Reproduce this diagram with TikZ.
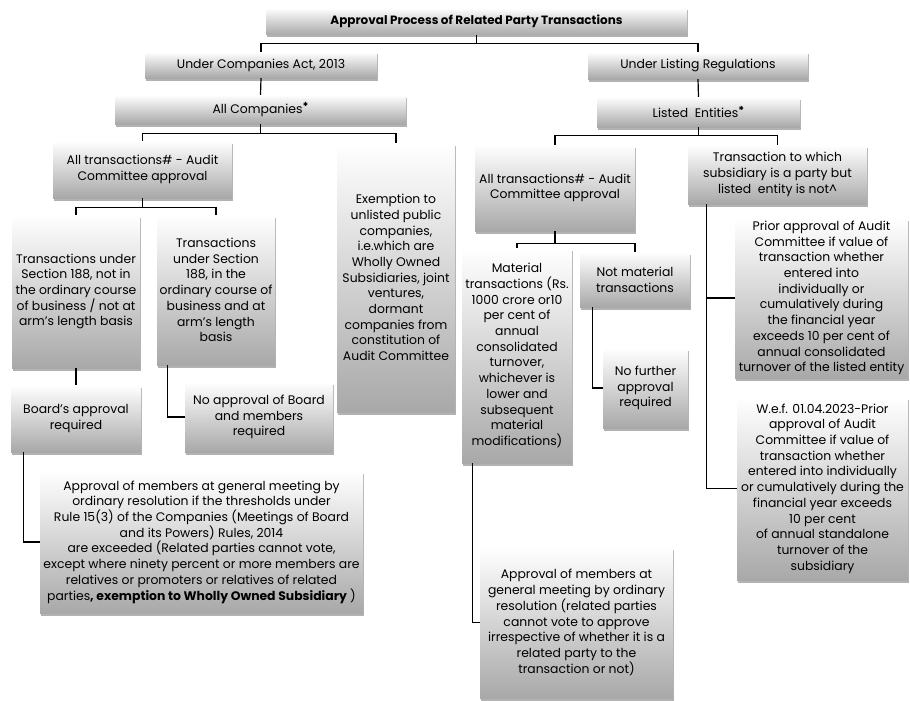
\documentclass[tikz,border=0pt]{standalone}
\usepackage{fontspec}
\setmainfont{Poppins}
\usetikzlibrary{shadows}
\newcommand\starmark{\raisebox{3.5pt}{\bfseries\fontsize{11}{11}\selectfont *}}
\tikzset{
  box/.style={draw=none, top color=white, bottom color=black!34,
    drop shadow={shadow xshift=1.2pt, shadow yshift=-2.5pt, opacity=0.3, fill=black},
    align=center, inner sep=1pt, text=black,
    font=\fontsize{12.4}{15.7}\selectfont},
  link/.style={draw=black, line width=1.2pt},
}
\begin{document}
\begin{tikzpicture}[x=1pt,y=-1pt]
\useasboundingbox (0,0) rectangle (910,701);

% top levels
\node[box, minimum width=421, minimum height=27, font=\fontsize{12}{14}\selectfont\bfseries] (title) at (476.5,21.5) {Approval Process of Related Party Transactions};
\node[box, minimum width=232, minimum height=26] (ca) at (261,65) {Under Companies Act, 2013};
\node[box, minimum width=220, minimum height=27] (lr) at (698,65.5) {Under Listing Regulations};
\node[box, minimum width=291, minimum height=29] (allc) at (260.5,109.5) {All Companies\starmark};
\node[box, minimum width=203, minimum height=30] (le) at (698.5,112) {Listed\ \ Entities\starmark};

% Companies Act branch
\node[box, minimum width=179, minimum height=57] (atl) at (142.5,169.5) {All transactions\# - Audit\\Committee approval};
\node[box, minimum width=118, minimum height=269] (exm) at (396,277.5) {Exemption to\\unlisted public\\companies,\\i.e.which are\\Wholly Owned\\Subsidiaries, joint\\ventures,\\dormant\\companies from\\constitution of\\Audit Committee};
\node[box, minimum width=128, minimum height=153] (s1) at (76,291.5) {Transactions under\\Section 188, not in\\the ordinary course\\of business / not at\\arm's length basis};
\node[box, minimum width=118, minimum height=150] (s2) at (216,290) {Transactions\\under Section\\188, in the\\ordinary course of\\business and at\\arm's length\\basis};
\node[box, minimum width=130, minimum height=67] (board) at (76,418.5) {Board's approval\\required};
\node[box, minimum width=148, minimum height=70] (noap) at (259,417) {No approval of Board\\and members\\required};
\node[box, minimum width=323, minimum height=142] (big) at (201.5,542) {Approval of members at general meeting by\\ordinary resolution if the thresholds under\\Rule 15(3) of the Companies (Meetings of Board\\and its Powers) Rules, 2014\\are exceeded (Related parties cannot vote,\\except where ninety percent or more members are\\relatives or promoters or relatives of related\\parties\textbf{, exemption to Wholly Owned Subsidiary} )};

% Listing Regulations branch
\node[box, minimum width=160, minimum height=86] (atr) at (555,188) {All transactions\# - Audit\\Committee approval};
\node[box, minimum width=179, minimum height=59] (sub) at (777.5,174.5) {Transaction to which\\subsidiary is a party but\\listed\ \ entity is not\textasciicircum};
\node[box, minimum width=110, minimum height=215] (mat) at (517,355.5) {Material\\transactions (Rs.\\1000 crore or10\\per cent of\\annual\\consolidated\\turnover,\\whichever is\\lower and\\subsequent\\material\\modifications)};
\node[box, minimum width=110, minimum height=55] (nmat) at (635,279.5) {Not material\\transactions};
\node[box, minimum width=85, minimum height=80] (nofur) at (645.5,388) {No further\\approval\\required};
\node[box, minimum width=193, minimum height=151] (gm) at (576.5,622.5) {Approval of members at\\general meeting by ordinary\\resolution (related parties\\cannot vote to approve\\irrespective of whether it is a\\related party to the\\transaction or not)};
\node[box, minimum width=173, minimum height=160] (prior) at (821.5,298) {Prior approval of Audit\\Committee if value of\\transaction whether\\entered into\\individually or\\cumulatively during\\the financial year\\exceeds 10 per cent of\\annual consolidated\\turnover of the listed entity};
\node[box, minimum width=171, minimum height=183] (wef) at (822.5,488.5) {W.e.f. 01.04.2023-Prior\\approval of Audit\\Committee if value of\\transaction whether\\entered into individually\\or cumulatively during the\\financial year exceeds\\10 per cent\\of annual standalone\\turnover of the\\subsidiary};

% connectors
\draw[link] (title.south) -- ++(0,8) -| (ca.north);
\draw[link] (title.south) -- ++(0,8) -| (lr.north);
\draw[link] (ca.south) -- (allc.north);
\draw[link] (lr.south) -- (le.north);
\draw[link] (allc.south) -- ++(0,9) -| (atl.north);
\draw[link] (allc.south) -- ++(0,9) -| (exm.north);
\draw[link] (le.south) -- ++(0,8) -| (atr.north);
\draw[link] (le.south) -- ++(0,8) -| (sub.north);
\draw[link] (atl.south) -- ++(0,9) -| (s1.north);
\draw[link] (atl.south) -- ++(0,9) -| (s2.north);
\draw[link] (atr.south) -- ++(0,12) -| (mat.north);
\draw[link] (atr.south) -- ++(0,12) -| (nmat.north);
\draw[link] (s1.south) -- (board.north);
\draw[link] ([xshift=11pt]s2.south west) |- (noap.west);
\draw[link] ([xshift=13pt]board.south west) |- (big.west);
\draw[link] ([xshift=13pt]nmat.south west) |- (nofur.west);
\draw[link] ([xshift=11pt]mat.south west) |- (gm.west);
\draw[link] ([xshift=19pt]sub.south west) |- (prior.west);
\draw[link] ([xshift=19pt]sub.south west) |- (wef.west);
\end{tikzpicture}
\end{document}
